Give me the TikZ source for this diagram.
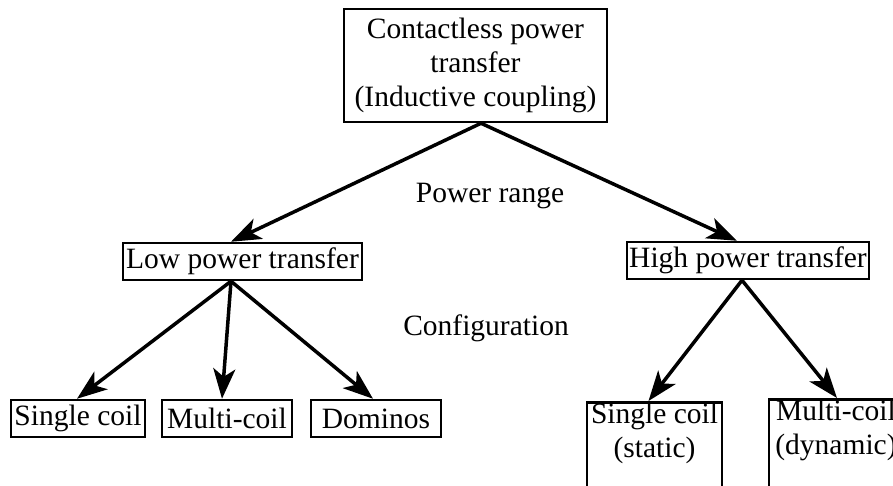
\documentclass[tikz,border=0pt]{standalone}
\usepackage{fontspec}
\setmainfont{Liberation Serif}
\usetikzlibrary{arrows.meta,calc}
\begin{document}
\begin{tikzpicture}[x=1pt,y=-1pt,
 box/.style={draw,line width=2.5pt,inner sep=1pt,font=\fontsize{29.5}{34}\selectfont,align=center},
 arr/.style={line width=3.5pt,-{Stealth[length=30pt,width=22pt,inset=8pt]}},
 lbl/.style={font=\fontsize{29.5}{34}\selectfont}]
\useasboundingbox (0,0) rectangle (893,486);
\clip (0,0) rectangle (893,486);
\node[box,minimum width=263pt,minimum height=113pt] (top) at (475.5,65.5) {Contactless power\\transfer\\(Inductive coupling)};
\node[box,minimum width=239pt,minimum height=37pt] (low) at (242.5,261.5) {Low power transfer};
\node[box,minimum width=242pt,minimum height=37pt] (high) at (748,260.5) {High power transfer};
\node[box,minimum width=134pt,minimum height=37pt] (sc) at (78,418.5) {Single coil};
\node[box,minimum width=130pt,minimum height=37pt] (mc) at (227,418.5) {Multi-coil};
\node[box,minimum width=130pt,minimum height=37pt] (dom) at (376,418.5) {Dominos};
\node[box,anchor=north,minimum width=135pt] (scs) at (654.5,401) {Single coil\\(static)\\\mbox{}};
\node[box,anchor=north,minimum width=134pt] (mcd) at (836,398) {Multi-coil\\(dynamic)\\\mbox{}};
\node[lbl] (pr) at (490,196) {Power range};
\node[lbl] (cf) at (486,328) {Configuration};
\coordinate (topo) at ($(top.south)+(5.5,0)$);
\coordinate (lowo) at ($(low.south)+(-11.5,0)$);
\coordinate (higho) at ($(high.south)+(-6,0)$);
\draw[arr] (topo) -- ($(low.north)+(-11.5,0)$);
\draw[arr] (topo) -- ($(high.north)+(-11,0)$);
\draw[arr] (lowo) -- ($(sc.north)+(-1,0)$);
\draw[arr] (lowo) -- ($(mc.north)+(-5,0)$);
\draw[arr] (lowo) -- ($(dom.north)+(-3,0)$);
\draw[arr] (higho) -- ($(scs.north)+(-6,0)$);
\draw[arr] (higho) -- ($(mcd.north)+(1,0)$);
\end{tikzpicture}
\end{document}
